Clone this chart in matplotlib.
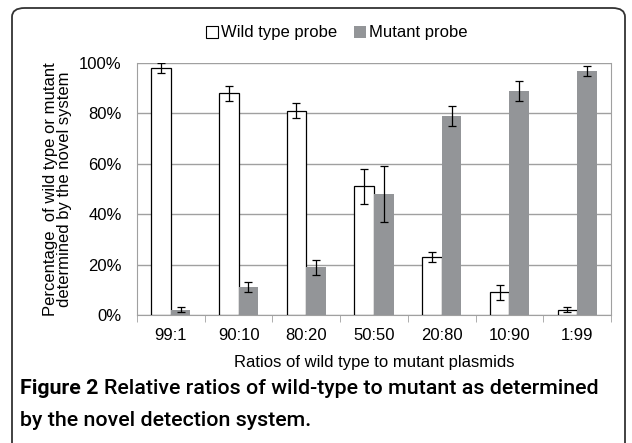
import numpy as np
import matplotlib.pyplot as plt
from matplotlib.patches import FancyBboxPatch, Patch
from matplotlib.ticker import FuncFormatter, FixedLocator

plt.rcParams['font.family'] = ['Liberation Sans', 'DejaVu Sans']

ratios = ['99:1', '90:10', '80:20', '50:50', '20:80', '10:90', '1:99']
wild = [98, 88, 81, 51, 23, 9, 2]
wild_err = [2, 3, 3, 7, 2, 3, 1]
mutant = [2, 11, 19, 48, 79, 89, 97]
mutant_err = [1, 2, 3, 11, 4, 4, 2]

fig = plt.figure(figsize=(6.32, 4.43), dpi=100)

# rounded frame around the figure panel
frame = FancyBboxPatch((12 / 632, -0.05), 613 / 632, 1 - 8 / 443 + 0.05,
                       boxstyle='round,pad=0,rounding_size=0.02',
                       transform=fig.transFigure, fill=False,
                       edgecolor='#333333', linewidth=1.3)
fig.patches.append(frame)

ax = fig.add_axes([137 / 632, 1 - 315 / 443, 474 / 632, 252 / 443])
x = np.arange(len(ratios))
w = 0.29
ax.bar(x - w / 2, wild, w, color='white', edgecolor='black', linewidth=0.9,
       yerr=wild_err, capsize=3, error_kw=dict(elinewidth=0.9, capthick=0.9),
       zorder=3)
ax.bar(x + w / 2, mutant, w, color='#939598', edgecolor='none',
       yerr=mutant_err, capsize=3, error_kw=dict(elinewidth=0.9, capthick=0.9),
       zorder=3)

ax.set_xlim(-0.5, len(ratios) - 0.5)
ax.set_ylim(0, 100)
ax.set_yticks(range(0, 101, 20))
ax.yaxis.set_major_formatter(FuncFormatter(lambda v, p: f'{int(v)}%'))
ax.grid(axis='y', color='#a0a0a0', linewidth=1, zorder=0)
ax.set_xticks(x)
ax.set_xticklabels(ratios, fontsize=12)
ax.xaxis.set_minor_locator(FixedLocator(np.arange(-0.5, len(ratios), 1)))
ax.tick_params(axis='x', which='major', length=0, pad=9)
ax.tick_params(axis='x', which='minor', length=5, color='#a0a0a0')
ax.tick_params(axis='y', length=0, labelsize=12, pad=11)
for s in ['left', 'right', 'bottom']:
    ax.spines[s].set_color('#a0a0a0')
ax.spines['top'].set_visible(False)

ax.set_xlabel('Ratios of wild type to mutant plasmids', fontsize=12, labelpad=9)
ax.set_ylabel('Percentage  of wild type or mutant\ndetermined by the novel system',
              fontsize=12, linespacing=0.95, labelpad=5)

handles = [Patch(facecolor='white', edgecolor='black', linewidth=0.8),
           Patch(facecolor='#939598', edgecolor='none')]
fig.legend(handles, ['Wild type probe', 'Mutant probe'], loc='center',
           bbox_to_anchor=(337 / 632, 1 - 33 / 443), ncol=2, frameon=False,
           fontsize=12, handlelength=0.7, handleheight=0.7,
           handletextpad=0.2, columnspacing=1.0)

# caption: fit the first line to the reference width
cap_font = ['Roboto', 'Liberation Sans']
size = 16
for _ in range(3):
    for t in list(fig.texts):
        t.remove()
    t1 = fig.text(20 / 632, 1 - 389 / 443, 'Figure 2', fontsize=size, va='center',
                  family=cap_font, fontweight='bold')
    fig.canvas.draw()
    bb = t1.get_window_extent()
    t2 = fig.text((bb.x1 + 5) / 632, 1 - 389 / 443,
                  'Relative ratios of wild-type to mutant as determined',
                  fontsize=size, va='center', family=cap_font, fontweight='medium')
    fig.canvas.draw()
    right = t2.get_window_extent().x1
    size = size * (601 - 20) / (right - 20)
fig.text(20 / 632, 1 - 421 / 443, 'by the novel detection system.', fontsize=t2.get_fontsize(),
         va='center', family=cap_font, fontweight='medium')

fig.savefig('out.png', dpi=100)
